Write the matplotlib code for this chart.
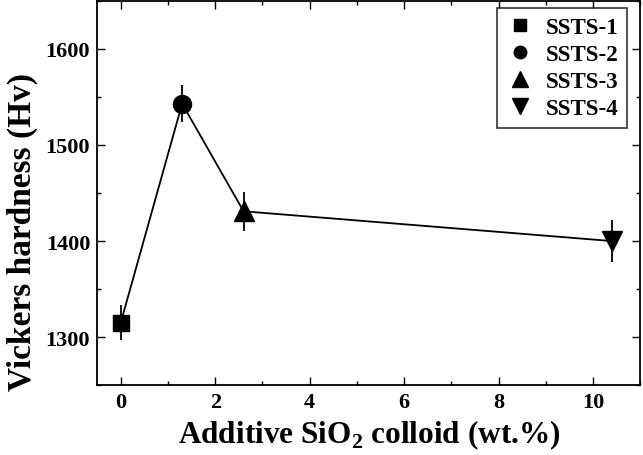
import matplotlib
matplotlib.use("Agg")
import matplotlib.pyplot as plt
from matplotlib.ticker import MultipleLocator
from matplotlib.lines import Line2D

plt.rcParams['font.family'] = ['Liberation Serif', 'DejaVu Serif']
plt.rcParams['font.weight'] = 'bold'
plt.rcParams['mathtext.fontset'] = 'custom'
plt.rcParams['mathtext.rm'] = 'Liberation Serif:bold'
plt.rcParams['mathtext.bf'] = 'Liberation Serif:bold'

labels = ["SSTS-1", "SSTS-2", "SSTS-3", "SSTS-4"]
x_vals = [0.0, 1.3, 2.6, 10.4]
hardness = [1315, 1543, 1431, 1400]
errors = [18, 19, 20, 22]
markers = ["s", "o", "^", "v"]
plot_ms = [12, 13, 14, 14]
legend_ms = [8, 9, 11, 11]

fig = plt.figure(figsize=(6.43, 4.56), dpi=100)
ax = fig.add_axes([0.151, 0.153, 0.845, 0.843])

ax.plot(x_vals, hardness, color='black', lw=1.3, zorder=2)
for xv, yv, e, m, ms in zip(x_vals, hardness, errors, markers, plot_ms):
    ax.errorbar([xv], [yv], yerr=[e], fmt=m, color='black', ms=ms,
                elinewidth=1.3, capsize=0, zorder=3)

ax.set_xlim(-0.5, 11)
ax.set_ylim(1250, 1650)
ax.xaxis.set_major_locator(MultipleLocator(2))
ax.xaxis.set_minor_locator(MultipleLocator(1))
ax.yaxis.set_major_locator(MultipleLocator(100))
ax.yaxis.set_minor_locator(MultipleLocator(50))
ax.tick_params(which='both', direction='in', top=True, right=True, width=1.0)
ax.tick_params(which='major', length=6, labelsize=16, pad=5)
ax.tick_params(which='minor', length=3)
for s in ax.spines.values():
    s.set_linewidth(1.3)

ax.set_xlabel(r"Additive SiO$_2$ colloid (wt.%)", fontsize=22.5, fontweight='bold', labelpad=4)
ax.set_ylabel("Vickers hardness (Hv)", fontsize=24, fontweight='bold')
ax.yaxis.set_label_coords(-0.109, 0.40)

handles = [Line2D([], [], ls='none', marker=m, color='black', ms=ms)
           for m, ms in zip(markers, legend_ms)]
leg = ax.legend(handles, labels, loc='upper right', fontsize=16.5, frameon=True,
                fancybox=False, edgecolor='black', handlelength=1.2,
                handletextpad=0.5, borderpad=0.4, labelspacing=0.26,
                borderaxespad=0, bbox_to_anchor=(0.976, 0.982))
leg.get_frame().set_linewidth(1.2)

fig.savefig("out.png", dpi=100)
